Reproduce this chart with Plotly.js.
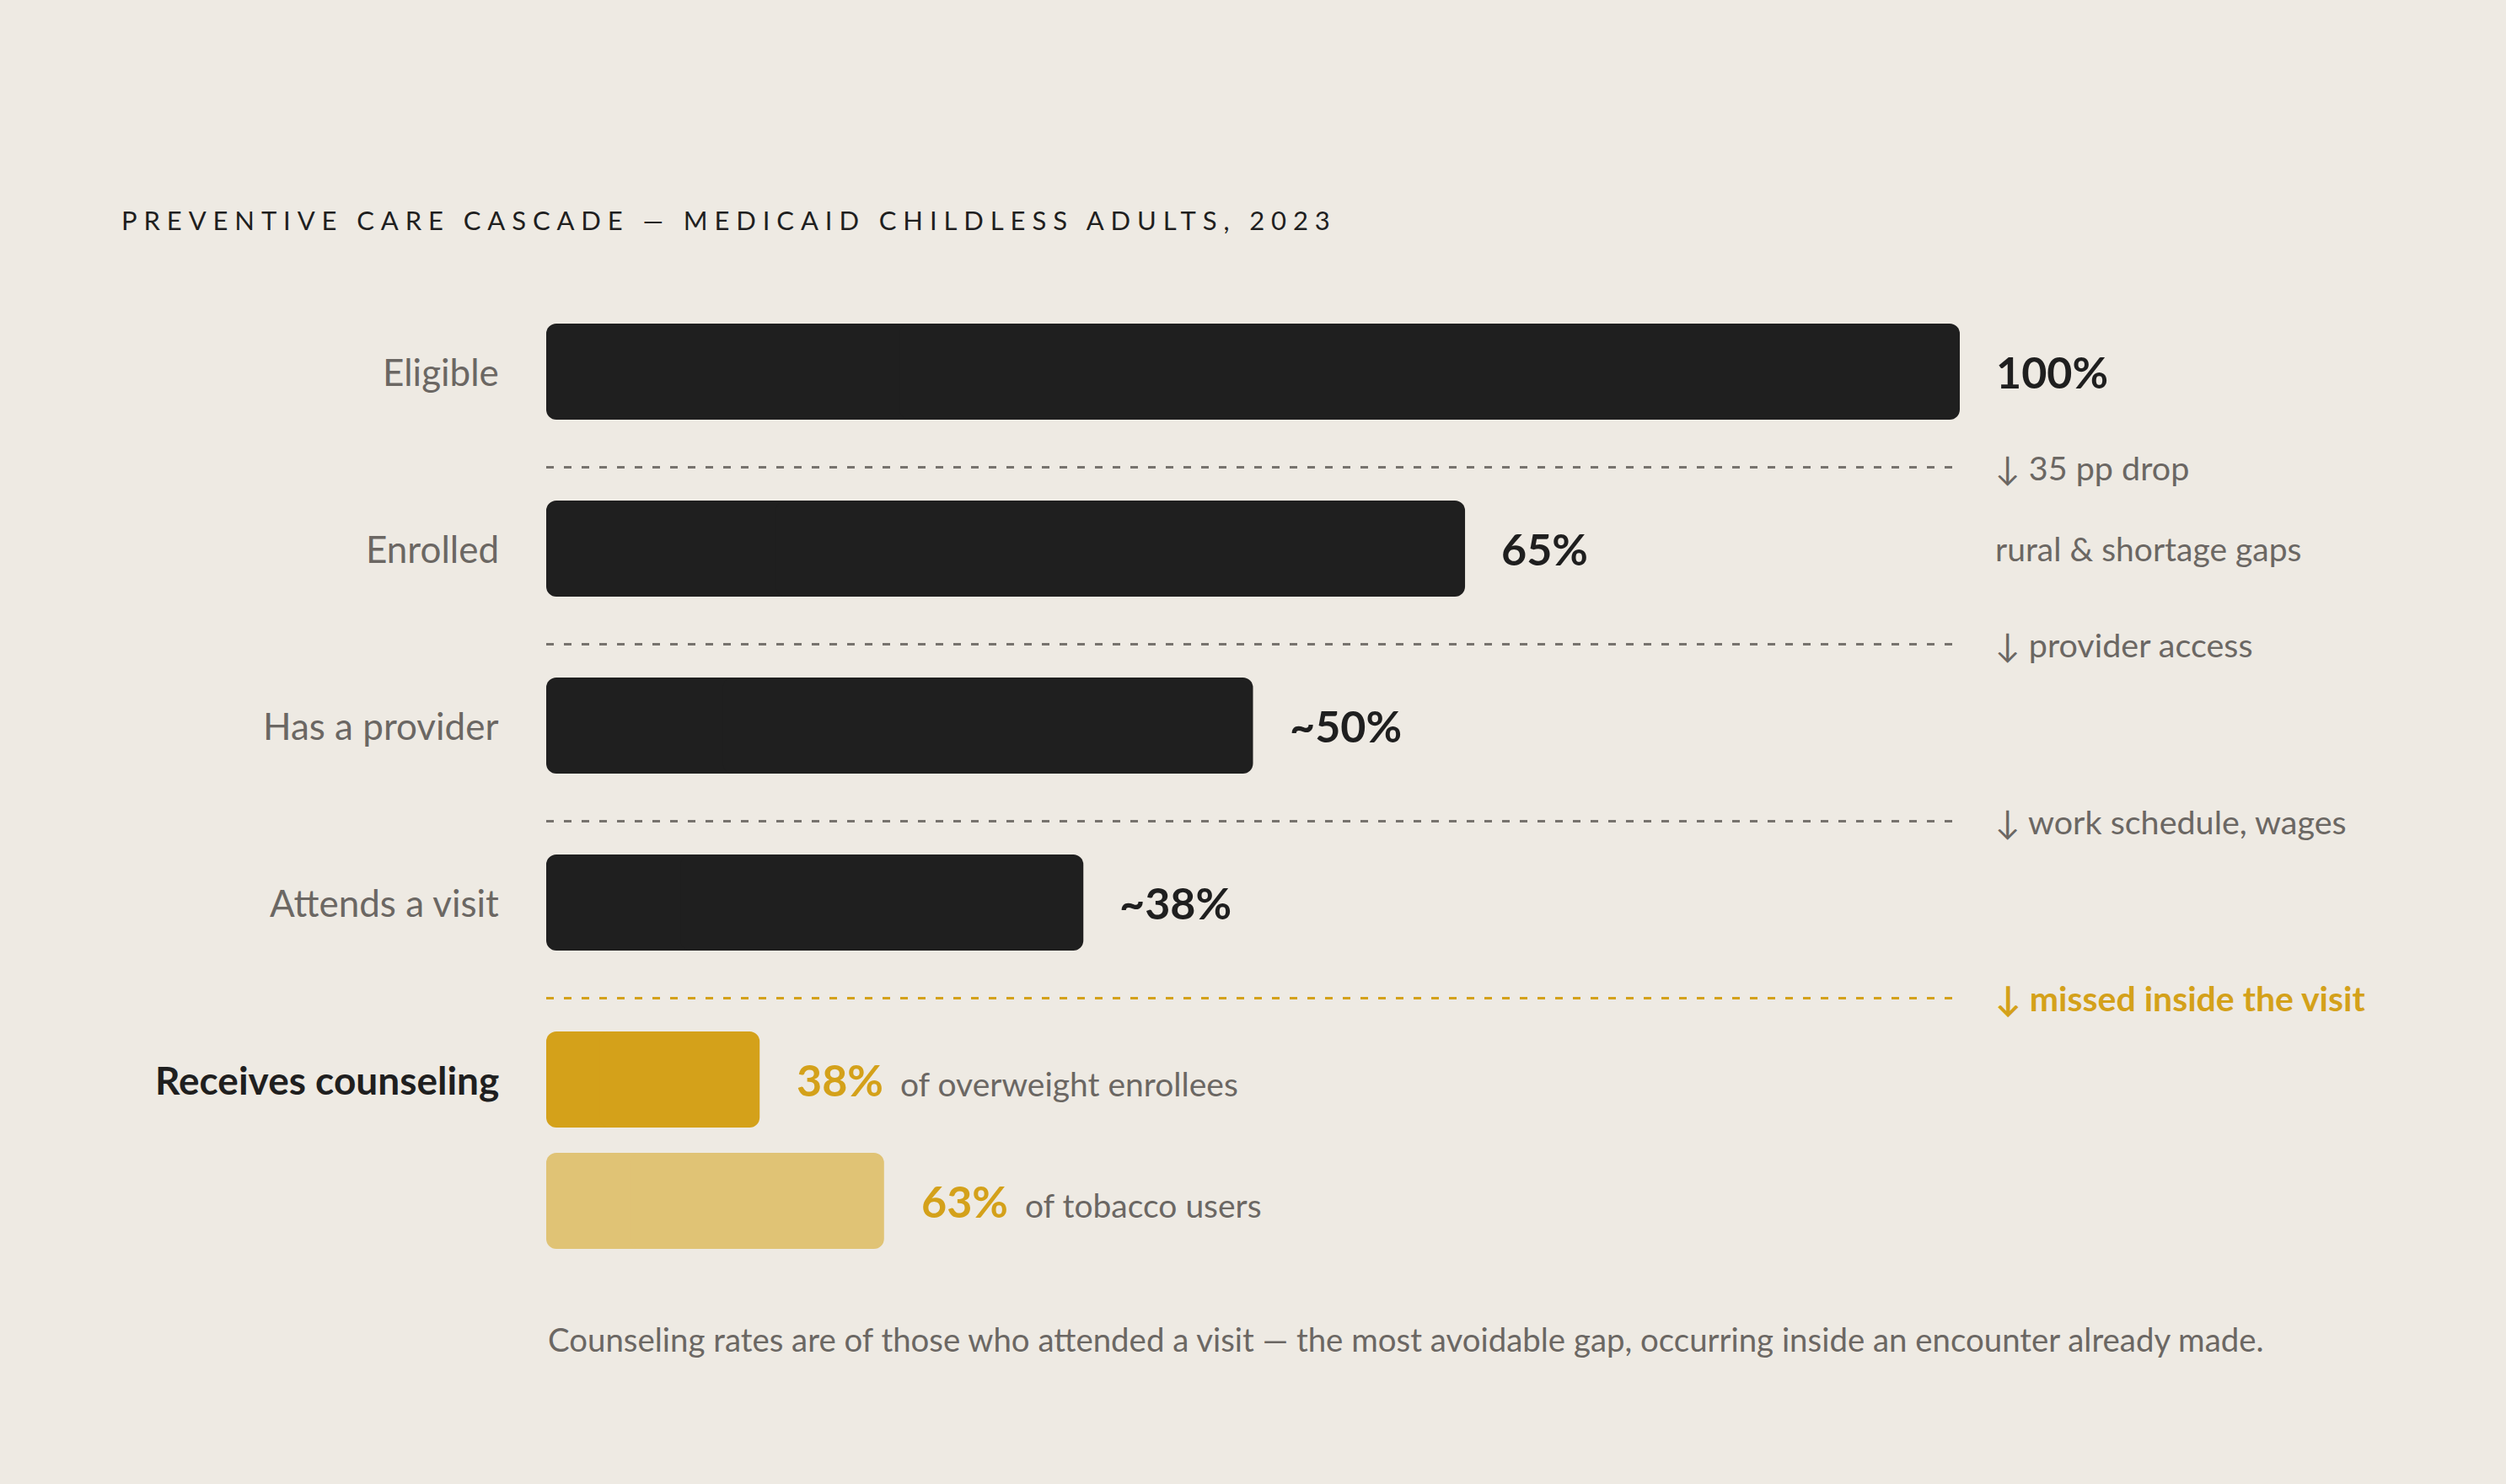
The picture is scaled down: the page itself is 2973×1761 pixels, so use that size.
<!DOCTYPE html>
<html>
<head>
<meta charset="utf-8">
<script src="https://cdn.plot.ly/plotly-3.0.1.min.js"></script>
<style>
  html, body { margin: 0; padding: 0; background: #eeeae3; }
  #chart { width: 2973px; height: 1761px; }
  .gtitle { letter-spacing: 7.9px; }
</style>
</head>
<body>
<div id="chart"></div>
<script>
// ---------- DATA ----------
const titleText = 'PREVENTIVE CARE CASCADE — MEDICAID CHILDLESS ADULTS, 2023';
const stages = ['Eligible', 'Enrolled', 'Has a provider', 'Attends a visit'];
const stageValues = [100, 65, 50, 38];
const stageLabels = ['100%', '65%', '~50%', '~38%'];
const counselCategory = 'Receives counseling';
const counselGroups = ['of overweight enrollees', 'of tobacco users'];
const counselLabels = ['38%', '63%'];
const counselBarValues = [15.1, 23.9];   // bar length on the cascade scale (share of eligible)
const dropNotes = ['↓ 35 pp drop', '↓ provider access', '↓ work schedule, wages', '↓ missed inside the visit'];
const subNote = 'rural & shortage gaps';
const footnote = 'Counseling rates are of those who attended a visit — the most avoidable gap, occurring inside an encounter already made.';

// ---------- STYLE ----------
const BG = '#eeeae3';
const DARK = '#1f1f1f';
const GRAY = '#6b6763';
const GOLD = '#d4a11a';
const LIGHT_GOLD = '#e0c375';
const FONT = 'Lato, "Open Sans", sans-serif';

const rowGap = 144 / 210;
const rowPos = [0, 1, 2, 3, 4, 4 + rowGap];
const sepPos = [0.54, 1.54, 2.54, 3.54];
const barWidth = 114 / 210;

const allValues = stageValues.concat(counselBarValues);
const barColors = [DARK, DARK, DARK, DARK, GOLD, LIGHT_GOLD];

const barCommon = {
  type: 'bar', orientation: 'h', y: rowPos, width: barWidth,
  marker: { color: barColors, cornerradius: 12, line: { width: 0 } },
  hoverinfo: 'skip', showlegend: false
};
const rightHalf = Object.assign({}, barCommon, {
  x: allValues.map(v => v * 0.75), base: allValues.map(v => v * 0.25)
});
const leftHalf = Object.assign({}, barCommon, {
  x: allValues.map(v => -v * 0.75), base: allValues.map(v => v * 0.75)
});

const annotations = [];
// category labels
stages.forEach((s, i) => annotations.push({
  x: 0, y: rowPos[i], xref: 'x', yref: 'y', xanchor: 'right', yanchor: 'middle',
  xshift: -54, showarrow: false, text: s,
  font: { family: FONT, size: 44, color: GRAY }
}));
annotations.push({
  x: 0, y: rowPos[4], xref: 'x', yref: 'y', xanchor: 'right', yanchor: 'middle',
  xshift: -54, showarrow: false, text: '<b>' + counselCategory + '</b>',
  font: { family: FONT, size: 46, color: DARK }
});
// value labels
stageLabels.forEach((t, i) => annotations.push({
  x: stageValues[i], y: rowPos[i], xref: 'x', yref: 'y', xanchor: 'left', yanchor: 'middle',
  xshift: 41, showarrow: false, text: '<b>' + t + '</b>',
  font: { family: FONT, size: 52, color: DARK }
}));
counselLabels.forEach((t, i) => annotations.push({
  x: counselBarValues[i], y: rowPos[4 + i], xref: 'x', yref: 'y', xanchor: 'left', yanchor: 'middle',
  xshift: 42, showarrow: false,
  text: '<b>' + t + '</b><span style="font-size:39px;font-weight:400;color:' + GRAY + '">&nbsp;&nbsp;' + counselGroups[i] + '</span>',
  font: { family: FONT, size: 52, color: GOLD }
}));
// drop notes
dropNotes.forEach((t, i) => {
  const last = i === dropNotes.length - 1;
  annotations.push({
    x: 100, y: sepPos[i], xref: 'x', yref: 'y', xanchor: 'left', yanchor: 'middle',
    xshift: 40, showarrow: false, text: last ? '<b>' + t + '</b>' : t,
    font: { family: FONT, size: last ? 41 : 39.5, color: last ? GOLD : GRAY }
  });
});
annotations.push({
  x: 100, y: rowPos[1], xref: 'x', yref: 'y', xanchor: 'left', yanchor: 'middle',
  xshift: 40, showarrow: false, text: subNote,
  font: { family: FONT, size: 39, color: GRAY }
});
// footnote
annotations.push({
  x: 0, y: -0.0468, xref: 'x', yref: 'paper', xanchor: 'left', yanchor: 'middle',
  showarrow: false, text: footnote,
  font: { family: FONT, size: 38.4, color: GRAY }
});

const shapes = sepPos.map((y, i) => {
  const last = i === sepPos.length - 1;
  return {
    type: 'line', xref: 'x', yref: 'y', x0: 0, x1: 99.5, y0: y, y1: y,
    line: { color: last ? GOLD : '#77736e', width: 3, dash: '9px,12px' }
  };
});

const layout = {
  width: 2973, height: 1761,
  paper_bgcolor: BG, plot_bgcolor: BG,
  margin: { l: 648, r: 648, t: 336, b: 228, pad: 0 },
  barmode: 'overlay',
  title: {
    text: titleText, xref: 'container', yref: 'container',
    x: 144 / 2973, xanchor: 'left', y: 1 - 262 / 1761, yanchor: 'middle',
    font: { family: FONT, size: 31, color: DARK }
  },
  xaxis: { range: [0, 100], visible: false, fixedrange: true },
  yaxis: { range: [5.2, -0.5], visible: false, fixedrange: true },
  annotations: annotations,
  shapes: shapes,
  showlegend: false
};

Plotly.newPlot('chart', [leftHalf, rightHalf], layout, { displayModeBar: false, staticPlot: true });
</script>
</body>
</html>
